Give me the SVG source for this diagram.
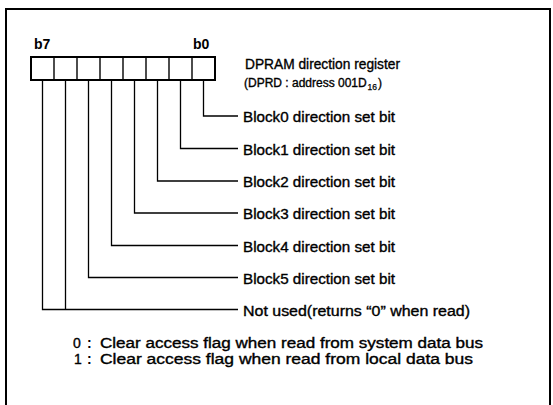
<svg xmlns="http://www.w3.org/2000/svg" width="553" height="405" viewBox="0 0 553 405">
<style>
.t{font-family:"Liberation Sans",Arial,sans-serif;font-size:14px;fill:#000;stroke:#000;stroke-width:0.35}
.s{font-size:12px}
.sub{font-size:8.5px;stroke-width:0.25}
.b{font-weight:bold;stroke:none}
.ln{stroke:#000;stroke-width:1.3;fill:none}
.reg{stroke:#000;stroke-width:2;fill:#fff}
.cell{stroke:#000;stroke-width:1.4}
</style>
<rect width="553" height="405" fill="#fff"/>
<path d="M6,410 V9 H550 V410" fill="none" stroke="#000" stroke-width="2"/>
<g id="register">
<rect class="reg" x="31" y="57" width="184" height="23"/>
<g class="cell">
<line x1="54" y1="57" x2="54" y2="80"/>
<line x1="77" y1="57" x2="77" y2="80"/>
<line x1="100" y1="57" x2="100" y2="80"/>
<line x1="123" y1="57" x2="123" y2="80"/>
<line x1="146" y1="57" x2="146" y2="80"/>
<line x1="169" y1="57" x2="169" y2="80"/>
<line x1="192" y1="57" x2="192" y2="80"/>
</g>
<text class="t b" x="34" y="49">b7</text>
<text class="t b" x="193" y="49">b0</text>
<text class="t" x="245" y="69" textLength="155" lengthAdjust="spacingAndGlyphs">DPRAM direction register</text>
<text class="t s" x="244" y="87">(DPRD : address 001D</text>
<text class="t sub" x="367.5" y="90">16</text>
<text class="t s" x="378" y="87">)</text>
</g>
<g id="connectors" class="ln">
<polyline points="203.5,80 203.5,116 238,116"/>
<polyline points="180.5,80 180.5,148.5 238,148.5"/>
<polyline points="157.5,80 157.5,181 238,181"/>
<polyline points="134.5,80 134.5,213 238,213"/>
<polyline points="111.5,80 111.5,245.5 238,245.5"/>
<polyline points="88.5,80 88.5,277.5 238,277.5"/>
<polyline points="65.5,80 65.5,309.5"/>
<polyline points="42.5,80 42.5,309.5 238,309.5"/>
</g>
<g id="bit0"><text class="t" x="243" y="122" textLength="152" lengthAdjust="spacingAndGlyphs">Block0 direction set bit</text></g>
<g id="bit1"><text class="t" x="243" y="154.5" textLength="152" lengthAdjust="spacingAndGlyphs">Block1 direction set bit</text></g>
<g id="bit2"><text class="t" x="243" y="187" textLength="152" lengthAdjust="spacingAndGlyphs">Block2 direction set bit</text></g>
<g id="bit3"><text class="t" x="243" y="219" textLength="152" lengthAdjust="spacingAndGlyphs">Block3 direction set bit</text></g>
<g id="bit4"><text class="t" x="243" y="251.5" textLength="152" lengthAdjust="spacingAndGlyphs">Block4 direction set bit</text></g>
<g id="bit5"><text class="t" x="243" y="283.5" textLength="152" lengthAdjust="spacingAndGlyphs">Block5 direction set bit</text></g>
<g id="bit67"><text class="t" x="243" y="315.5" textLength="227" lengthAdjust="spacingAndGlyphs">Not used(returns “0” when read)</text></g>
<g id="legend">
<text class="t" x="73" y="348">0</text><text class="t b" x="87" y="348">:</text>
<text class="t" x="100" y="348" textLength="383" lengthAdjust="spacingAndGlyphs">Clear access flag when read from system data bus</text>
<text class="t" x="74" y="364">1</text><text class="t b" x="87" y="364">:</text>
<text class="t" x="100" y="364" textLength="373" lengthAdjust="spacingAndGlyphs">Clear access flag when read from local data bus</text>
</g>
</svg>
